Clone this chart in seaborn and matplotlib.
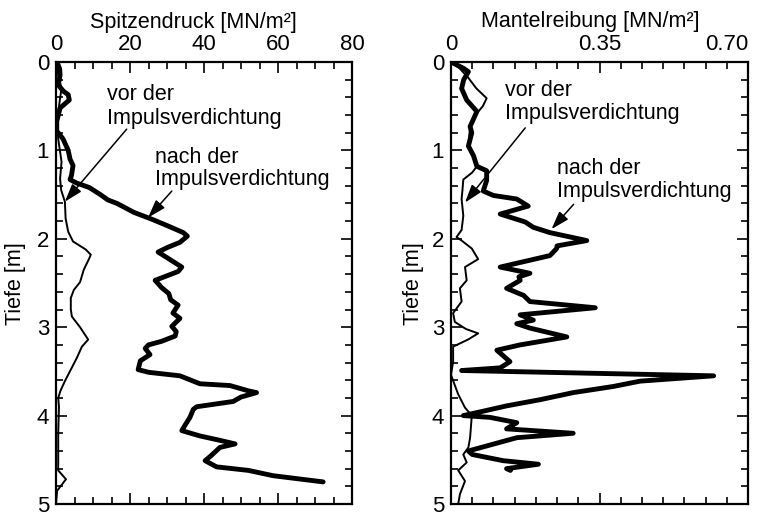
import matplotlib
matplotlib.use("Agg")
import matplotlib.pyplot as plt
import seaborn as sns
import numpy as np
from matplotlib.ticker import MultipleLocator, FixedLocator

# ---------------- data ----------------
# Spitzendruck (cone resistance), vor der Impulsverdichtung
qc_vor_depth = [0.0, 0.15, 0.3, 0.41, 0.67, 0.87, 1.13, 1.32, 1.45, 1.58, 1.77, 1.92, 2.03, 2.12,
                2.18, 2.22, 2.35, 2.49, 2.58, 2.67, 2.80, 2.88, 3.00, 3.14, 3.22, 3.35, 3.48, 3.61,
                3.72, 3.80, 3.90, 4.20, 4.62, 4.72, 4.85, 5.0]
qc_vor_value = [0.3, 0.6, 1.5, 1.1, 0.3, 0.6, 1.5, 1.1, 1.4, 2.4, 2.6, 3.3, 4.6, 8.0,
                9.4, 9.0, 7.5, 6.5, 4.8, 4.0, 4.0, 4.3, 6.5, 8.7, 7.0, 5.6, 4.0, 2.4,
                1.2, 0.6, 0.8, 0.6, 0.6, 2.7, 0.3, 0.0]

# Spitzendruck, nach der Impulsverdichtung
qc_nach_depth = [0.0, 0.08, 0.15, 0.26, 0.33, 0.37, 0.43, 0.52, 0.67, 0.78, 0.87, 1.0, 1.10, 1.17,
                 1.28, 1.33, 1.37, 1.42, 1.50, 1.56, 1.60, 1.70, 1.78, 1.85, 1.93, 1.97, 2.04,
                 2.10, 2.15, 2.20, 2.32, 2.37, 2.47, 2.55, 2.62, 2.69, 2.75, 2.84, 2.90, 2.99,
                 3.05, 3.10, 3.16, 3.20, 3.24, 3.31, 3.38, 3.48, 3.51, 3.55, 3.64, 3.66, 3.72,
                 3.74, 3.79, 3.84, 3.90, 3.93, 4.02, 4.10, 4.17, 4.23, 4.28, 4.32, 4.36, 4.45,
                 4.51, 4.58, 4.62, 4.68, 4.75]
qc_nach_value = [0.3, 1.0, 1.1, 0.6, 2.0, 3.3, 3.6, 1.1, 0.2, 0.2, 1.9, 3.3, 3.8, 4.6,
                 4.2, 3.8, 5.6, 9.0, 12.0, 14.0, 16.5, 21.0, 26.0, 30.0, 34.4, 35.5, 33.5,
                 30.0, 27.6, 29.5, 34.0, 33.0, 26.8, 28.5, 30.5, 31.0, 33.0, 31.6, 33.5, 31.3,
                 32.5, 32.2, 28.5, 25.0, 24.1, 25.4, 22.8, 22.2, 25.0, 33.5, 38.9, 47.0, 52.0,
                 54.2, 50.0, 47.9, 38.0, 37.1, 36.2, 35.0, 34.0, 38.9, 44.3, 48.4, 44.3, 42.0,
                 40.3, 43.4, 52.0, 58.7, 72.2]

# Mantelreibung (sleeve friction), vor der Impulsverdichtung
fs_vor_depth = [0.0, 0.07, 0.18, 0.30, 0.41, 0.50, 0.58, 0.73, 0.95, 1.06, 1.18, 1.25, 1.33, 1.45,
                1.55, 1.74, 1.90, 1.98, 2.02, 2.11, 2.23, 2.32, 2.47, 2.56, 2.71, 2.84, 2.94,
                3.02, 3.07, 3.14, 3.22, 3.39, 3.54, 3.76, 3.91, 4.00, 4.25, 4.36, 4.44, 4.53,
                4.62, 4.74, 4.89, 5.0]
fs_vor_value = [0.0, 0.02, 0.041, 0.06, 0.084, 0.075, 0.061, 0.045, 0.041, 0.053, 0.061, 0.05, 0.029,
                0.027, 0.025, 0.029, 0.025, 0.013, 0.025, 0.049, 0.064, 0.033, 0.037, 0.021, 0.025,
                0.005, 0.009, 0.035, 0.064, 0.04, 0.005, 0.005, 0.0, 0.017, 0.033, 0.049, 0.045,
                0.041, 0.029, 0.037, 0.017, 0.033, 0.021, 0.017]

# Mantelreibung, nach der Impulsverdichtung
fs_nach_depth = [0.0, 0.07, 0.11, 0.20, 0.30, 0.43, 0.56, 0.73, 0.80, 0.95, 1.06, 1.18, 1.23, 1.34,
                 1.46, 1.51, 1.55, 1.63, 1.72, 1.81, 1.87, 1.93, 2.02, 2.08, 2.11, 2.19, 2.32,
                 2.39, 2.43, 2.47, 2.56, 2.64, 2.71, 2.78, 2.86, 2.92, 2.96, 3.01, 3.11, 3.20,
                 3.26, 3.39, 3.46, 3.49, 3.55, 3.61, 3.67, 3.74, 3.82, 3.89, 3.95, 4.00, 4.02,
                 4.08, 4.15, 4.20, 4.25, 4.40, 4.44, 4.51, 4.55, 4.60, 4.62]
fs_nach_value = [0.0, 0.029, 0.041, 0.03, 0.025, 0.037, 0.061, 0.045, 0.049, 0.041, 0.053, 0.061,
                 0.084, 0.084, 0.076, 0.10, 0.155, 0.182, 0.116, 0.175, 0.194, 0.233, 0.32, 0.25,
                 0.249, 0.233, 0.116, 0.186, 0.16, 0.163, 0.131, 0.171, 0.186, 0.34, 0.163, 0.194,
                 0.155, 0.186, 0.273, 0.163, 0.108, 0.139, 0.116, 0.025, 0.619, 0.446, 0.383,
                 0.288, 0.21, 0.131, 0.076, 0.029, 0.092, 0.155, 0.131, 0.288, 0.155, 0.041, 0.05,
                 0.123, 0.206, 0.131, 0.14]

qc_ticks = [0, 20, 40, 60, 80]
qc_ticklabels = ["0", "20", "40", "60", "80"]
fs_ticks = [0, 0.35, 0.70]
fs_ticklabels = ["0", "0.35", "0.70"]
depth_ticks = [0, 1, 2, 3, 4, 5]
depth_ticklabels = ["0", "1", "2", "3", "4", "5"]

title_qc = "Spitzendruck [MN/m²]"
title_fs = "Mantelreibung [MN/m²]"
ylabel = "Tiefe [m]"
label_vor = ["vor der", "Impulsverdichtung"]
label_nach = ["nach der", "Impulsverdichtung"]

# ---------------- style ----------------
sns.set_theme(style="ticks")
plt.rcParams["font.family"] = ["Liberation Sans", "DejaVu Sans"]
plt.rcParams["text.color"] = "black"
plt.rcParams["xtick.color"] = "black"
plt.rcParams["ytick.color"] = "black"
plt.rcParams["xtick.labelcolor"] = "black"
plt.rcParams["ytick.labelcolor"] = "black"
FS = 15.5
TFS = 16

W, H = 760, 516
fig = plt.figure(figsize=(W / 100, H / 100), dpi=100)
fig.patch.set_facecolor("white")

def px(x):
    return x / W

def py(y):
    return 1 - y / H

TOP, BOT = 62, 504
ax1 = fig.add_axes([px(56), py(BOT), px(296), (BOT - TOP) / H])
ax2 = fig.add_axes([px(451), py(BOT), px(297), (BOT - TOP) / H])

THICK, THIN = 3.5, 1.4

sns.lineplot(x=qc_vor_value, y=qc_vor_depth, sort=False, estimator=None, ax=ax1,
             color="black", lw=THIN)
sns.lineplot(x=qc_nach_value, y=qc_nach_depth, sort=False, estimator=None, ax=ax1,
             color="black", lw=THICK)
sns.lineplot(x=fs_vor_value, y=fs_vor_depth, sort=False, estimator=None, ax=ax2,
             color="black", lw=THIN)
sns.lineplot(x=fs_nach_value, y=fs_nach_depth, sort=False, estimator=None, ax=ax2,
             color="black", lw=THICK)

def style_axis(ax, xlim, xticks, xticklabels, xminor):
    ax.set_xlim(*xlim)
    ax.set_ylim(5, 0)
    ax.set_xticks(xticks)
    ax.set_xticklabels(xticklabels)
    ax.xaxis.set_minor_locator(MultipleLocator(xminor))
    ax.set_yticks(depth_ticks)
    ax.set_yticklabels(depth_ticklabels, va="center_baseline")
    ax.yaxis.set_minor_locator(MultipleLocator(0.2))
    ax.tick_params(which="both", direction="in", top=True, bottom=True, left=True, right=True,
                   labeltop=True, labelbottom=False, color="black", width=1.2)
    ax.tick_params(which="major", length=8, labelsize=TFS, pad=5)
    ax.tick_params(which="minor", length=5)
    for s in ax.spines.values():
        s.set_visible(True)
        s.set_linewidth(1.6)
        s.set_color("black")
    ax.set_xlabel("")
    ax.set_ylabel("")
    ax.grid(False)
    ax.set_facecolor("white")

style_axis(ax1, (0, 80), qc_ticks, qc_ticklabels, 5)
style_axis(ax2, (0, 0.70), fs_ticks, fs_ticklabels, 0.05)
# last label of the right panel sits flush with the frame
ax2.get_xticklabels()[-1].set_horizontalalignment("right")
ax2.get_xticklabels()[-1].set_x(0.70)

# titles and y labels
fig.text(px(193), py(28), title_qc, ha="center", va="baseline", fontsize=FS)
fig.text(px(590), py(27), title_fs, ha="center", va="baseline", fontsize=FS)
fig.text(px(16), py(284), ylabel, ha="center", va="center", rotation=90, fontsize=FS)
fig.text(px(413), py(284), ylabel, ha="center", va="center", rotation=90, fontsize=FS)

# annotations
arrow = dict(arrowstyle="-|>,head_length=0.55,head_width=0.18", color="black", lw=1.1,
             mutation_scale=20, shrinkA=0, shrinkB=0)

ax1.text(13.8, 0.427, label_vor[0], fontsize=FS, va="baseline", ha="left")
ax1.text(13.8, 0.697, label_vor[1], fontsize=FS, va="baseline", ha="left")
ax1.text(26.8, 1.14, label_nach[0], fontsize=FS, va="baseline", ha="left")
ax1.text(26.8, 1.39, label_nach[1], fontsize=FS, va="baseline", ha="left")
ax1.annotate("", xy=(2.4, 1.58), xytext=(19.1, 0.76), arrowprops=arrow)
ax1.annotate("", xy=(24.9, 1.76), xytext=(31.3, 1.46), arrowprops=arrow)

ax2.text(0.127, 0.39, label_vor[0], fontsize=FS, va="baseline", ha="left")
ax2.text(0.127, 0.65, label_vor[1], fontsize=FS, va="baseline", ha="left")
ax2.text(0.249, 1.27, label_nach[0], fontsize=FS, va="baseline", ha="left")
ax2.text(0.249, 1.53, label_nach[1], fontsize=FS, va="baseline", ha="left")
ax2.annotate("", xy=(0.033, 1.59), xytext=(0.175, 0.745), arrowprops=arrow)
ax2.annotate("", xy=(0.237, 1.89), xytext=(0.289, 1.61), arrowprops=arrow)

fig.savefig("out.png", dpi=100, facecolor="white")
